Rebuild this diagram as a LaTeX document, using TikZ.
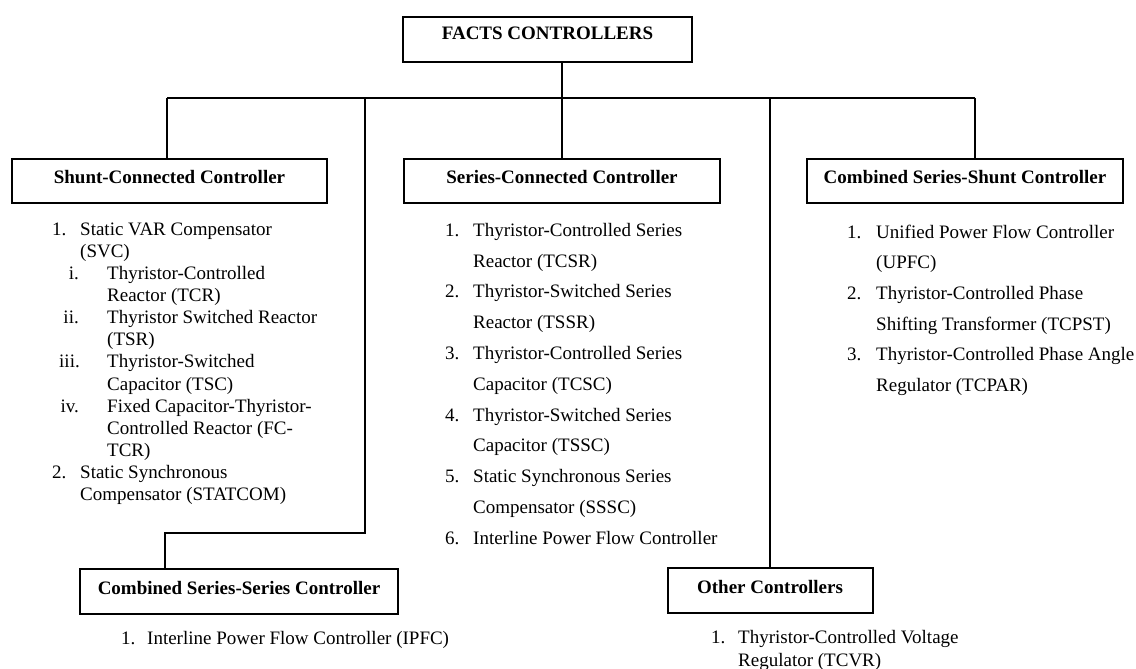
\documentclass[tikz,border=0pt]{standalone}
\usepackage{fontspec}
\setmainfont{Liberation Serif}
\begin{document}
\begin{tikzpicture}[x=1pt,y=-1pt,
  every node/.style={inner sep=0pt},
  ctlbox/.style={draw, line width=2pt, minimum height=45pt,
    font=\fontsize{19}{22}\selectfont\bfseries, text height=13pt, text depth=8pt},
  wire/.style={line width=2pt},
  num/.style={anchor=base west, font=\fontsize{19}{22}\selectfont},
  rnum/.style={anchor=base east, font=\fontsize{19}{22}\selectfont},
  entry/.style={anchor=base west, font=\fontsize{19}{22}\selectfont}]
\useasboundingbox (0,0) rectangle (1136,669);

% controller boxes
\node[ctlbox, minimum width=289pt, text height=10pt, text depth=10.4pt] (top) at (547.5,39.5) {FACTS CONTROLLERS};
\node[ctlbox, minimum width=315pt, minimum height=44pt] (shunt) at (169.5,181) {Shunt-Connected Controller};
\node[ctlbox, minimum width=316pt, minimum height=44pt] (series) at (562,181) {Series-Connected Controller};
\node[ctlbox, minimum width=316pt, minimum height=44pt] (comb) at (965,180.5) {Combined Series-Shunt Controller};
\node[ctlbox, minimum width=318pt] (sersr) at (239,591.5) {Combined Series-Series Controller};
\node[ctlbox, minimum width=205pt] (other) at (770,590.5) {Other Controllers};

% tree connectors
\coordinate (busL) at (167,98);
\coordinate (busR) at (975,98);
\coordinate (busS) at (365,98);
\coordinate (bendA) at (365,533);
\coordinate (bendB) at (165,533);
\draw[wire] (busL) -- (busR);
\draw[wire] (top.south -| series.north) -- (series.north);
\draw[wire] (busL) -- (busL |- shunt.north);
\draw[wire] (busR) -- (busR |- comb.north);
\draw[wire] (other.north |- busL) -- (other.north);
\draw[wire] (busS) -- (bendA) -- (bendB) -- (bendB |- sersr.north);

% shunt-connected list
\node[num]   (sh1)  at (52,235.3)  {1.};
\node[entry] (sh1a) at (80,235.3)  {Static VAR Compensator};
\node[entry] (sh1b) at (80,257.4)  {(SVC)};
\node[rnum]  (shi)  at (79,279.5)  {i.};
\node[entry] (shia) at (107,279.5) {Thyristor-Controlled};
\node[entry] (shib) at (107,301.6) {Reactor (TCR)};
\node[rnum]  (shii) at (79,323.7)  {ii.};
\node[entry] (shiia) at (107,323.7) {Thyristor Switched Reactor};
\node[entry] (shiib) at (107,345.8) {(TSR)};
\node[rnum]  (shiii) at (80,367.9) {iii.};
\node[entry] (shiiia) at (107,367.9) {Thyristor-Switched};
\node[entry] (shiiib) at (107,390)  {Capacitor (TSC)};
\node[rnum]  (shiv) at (79,412.1)  {iv.};
\node[entry] (shiva) at (107,412.1) {Fixed Capacitor-Thyristor-};
\node[entry] (shivb) at (107,434.2) {Controlled Reactor (FC-};
\node[entry] (shivc) at (107,456.3) {TCR)};
\node[num]   (sh2)  at (52,478.4)  {2.};
\node[entry] (sh2a) at (80,478.4)  {Static Synchronous};
\node[entry] (sh2b) at (80,500.5)  {Compensator (STATCOM)};

% series-connected list
\node[num]   (se1)  at (445,236.3) {1.};
\node[entry] (se1a) at (473,236.3) {Thyristor-Controlled Series};
\node[entry] (se1b) at (473,267.1) {Reactor (TCSR)};
\node[num]   (se2)  at (445,297.9) {2.};
\node[entry] (se2a) at (473,297.9) {Thyristor-Switched Series};
\node[entry] (se2b) at (473,328.7) {Reactor (TSSR)};
\node[num]   (se3)  at (445,359.5) {3.};
\node[entry] (se3a) at (473,359.5) {Thyristor-Controlled Series};
\node[entry] (se3b) at (473,390.3) {Capacitor (TCSC)};
\node[num]   (se4)  at (445,421.1) {4.};
\node[entry] (se4a) at (473,421.1) {Thyristor-Switched Series};
\node[entry] (se4b) at (473,451.9) {Capacitor (TSSC)};
\node[num]   (se5)  at (445,482.7) {5.};
\node[entry] (se5a) at (473,482.7) {Static Synchronous Series};
\node[entry] (se5b) at (473,513.5) {Compensator (SSSC)};
\node[num]   (se6)  at (445,544.3) {6.};
\node[entry] (se6a) at (473,544.3) {Interline Power Flow Controller};

% combined series-shunt list
\node[num]   (cb1)  at (847,238.3) {1.};
\node[entry] (cb1a) at (876,238.3) {Unified Power Flow Controller};
\node[entry] (cb1b) at (876,268.9) {(UPFC)};
\node[num]   (cb2)  at (847,299.5) {2.};
\node[entry] (cb2a) at (876,299.5) {Thyristor-Controlled Phase};
\node[entry] (cb2b) at (876,330.1) {Shifting Transformer (TCPST)};
\node[num]   (cb3)  at (847,360.7) {3.};
\node[entry] (cb3a) at (876,360.7) {Thyristor-Controlled Phase Angle};
\node[entry] (cb3b) at (876,391.3) {Regulator (TCPAR)};

% combined series-series list
\node[num]   (ss1)  at (121,644.3) {1.};
\node[entry] (ss1a) at (147,644.3) {Interline Power Flow Controller (IPFC)};

% other controllers list
\node[num]   (ot1)  at (711,643.3) {1.};
\node[entry] (ot1a) at (738,643.3) {Thyristor-Controlled Voltage};
\node[entry] (ot1b) at (738,666.3) {Regulator (TCVR)};
\end{tikzpicture}
\end{document}
